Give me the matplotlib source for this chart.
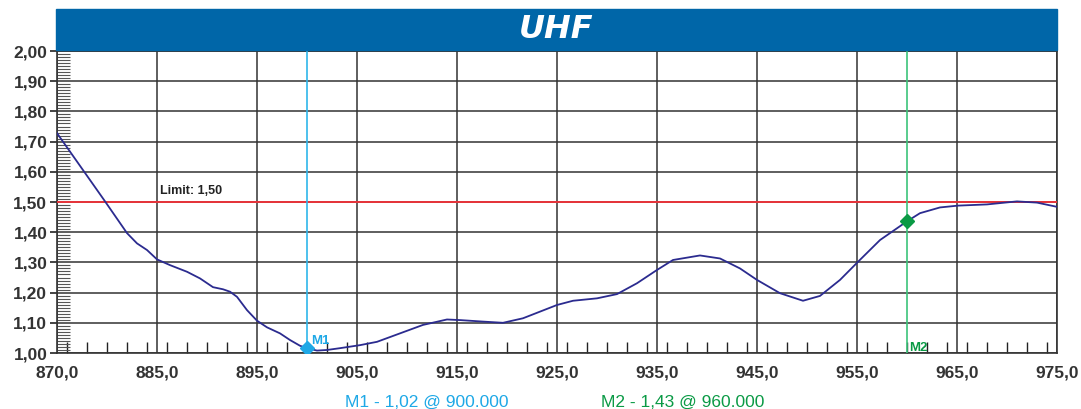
import matplotlib.pyplot as plt
from matplotlib.patches import Rectangle
from matplotlib.ticker import MultipleLocator

plt.rcParams['font.family'] = ['Liberation Sans', 'DejaVu Sans']

# curve (frequency MHz, SWR)
freq = [875.0, 879.7, 882.0, 883.0, 884.0, 885.0, 886.3, 888.0, 889.3, 890.6, 891.6,
        892.3, 893.0, 894.0, 895.0, 896.0, 897.3, 898.3, 899.3, 900.0, 901.0, 902.0,
        903.3, 905.3, 907.0, 909.3, 911.6, 914.0, 915.3, 917.6, 919.6, 921.6, 923.3,
        925.0, 926.6, 929.0, 931.0, 933.0, 935.0, 936.6, 939.3, 941.3, 943.3, 945.0,
        947.3, 949.6, 951.3, 953.3, 955.1, 957.3, 960.0, 961.3, 963.3, 965.1, 968.0,
        971.0, 973.0, 975.0]
swr = [1.728, 1.507, 1.397, 1.363, 1.341, 1.310, 1.291, 1.269, 1.247, 1.218, 1.211,
       1.203, 1.186, 1.142, 1.107, 1.085, 1.065, 1.043, 1.024, 1.016, 1.008, 1.010,
       1.016, 1.026, 1.037, 1.065, 1.093, 1.111, 1.109, 1.104, 1.100, 1.115, 1.137,
       1.159, 1.173, 1.181, 1.195, 1.231, 1.275, 1.308, 1.323, 1.313, 1.280, 1.242,
       1.198, 1.173, 1.189, 1.242, 1.302, 1.374, 1.436, 1.463, 1.482, 1.488, 1.492,
       1.502, 1.498, 1.484]

xticks = [875, 885, 895, 905, 915, 925, 935, 945, 955, 965, 975]
xlabels = ['870,0', '885,0', '895,0', '905,0', '915,0', '925,0', '935,0', '945,0',
           '955,0', '965,0', '975,0']
yticks = [1.0, 1.1, 1.2, 1.3, 1.4, 1.5, 1.6, 1.7, 1.8, 1.9, 2.0]
limit = 1.50
m1 = (900, 1.016)
m2 = (960, 1.436)

fig = plt.figure(figsize=(10.81, 4.09), dpi=100)
ax = fig.add_axes([57 / 1081, 56 / 409, 1000 / 1081, 302 / 409])

ax.set_xlim(875, 975)
ax.set_ylim(1.0, 2.0)
ax.set_xticks(xticks)
ax.set_xticklabels(xlabels)
ax.set_yticks(yticks)
ax.set_yticklabels([('%.2f' % v).replace('.', ',') for v in yticks])
ax.tick_params(axis='both', labelsize=12.5, labelcolor='#333333', width=1.2,
               color='#222222')
ax.tick_params(axis='x', length=0, pad=9)
ax.tick_params(axis='y', length=5, pad=2)
for lab in ax.get_xticklabels() + ax.get_yticklabels():
    lab.set_fontweight('bold')
ax.xaxis.set_minor_locator(MultipleLocator(2))
ax.yaxis.set_minor_locator(MultipleLocator(0.01))
ax.tick_params(axis='x', which='minor', direction='in', length=8, width=1, color='#222222')
ax.tick_params(axis='y', which='minor', direction='in', length=9, width=0.8, color='#555555')
ax.grid(True, which='major', color='#333333', linewidth=1.1)
for s in ax.spines.values():
    s.set_color('#333333')
    s.set_linewidth(1.2)

ax.axhline(limit, color='#e8343a', linewidth=1.4, zorder=3)
ax.text(885.3, limit + 0.015, 'Limit: 1,50', fontsize=9, fontweight='bold',
        color='#222222', va='bottom')

ax.axvline(m1[0], color='#2fb6ea', linewidth=1.2, zorder=3)
ax.axvline(m2[0], color='#3cc47a', linewidth=1.2, zorder=3)

ax.plot(freq, swr, color='#2b2b8f', linewidth=1.3, zorder=4)
ax.plot(m1[0], m1[1], marker='D', color='#1ea8e6', markersize=7, zorder=5)
ax.plot(m2[0], m2[1], marker='D', color='#0a9a45', markersize=7, zorder=5)
ax.text(900.4, 1.03, 'M1', color='#1ea8e6', fontsize=9.5, fontweight='bold')
ax.text(960.2, 1.005, 'M2', color='#0a9a45', fontsize=9.5, fontweight='bold')

# title bar
fig.patches.append(Rectangle((56 / 1081, (409 - 50) / 409), 1001 / 1081, 41 / 409,
                             transform=fig.transFigure, color='#0066a8', zorder=0))
fig.text(556 / 1081, (409 - 29) / 409, 'UHF', color='white', fontsize=23,
         fontweight='bold', fontstyle='italic', family='DejaVu Sans',
         ha='center', va='center')

fig.text(427 / 1081, (409 - 402) / 409, 'M1 - 1,02 @ 900.000', color='#1ea8e6',
         fontsize=12.5, ha='center', va='center')
fig.text(683 / 1081, (409 - 402) / 409, 'M2 - 1,43 @ 960.000', color='#0a9a45',
         fontsize=12.5, ha='center', va='center')

fig.savefig('out.png', dpi=100)
